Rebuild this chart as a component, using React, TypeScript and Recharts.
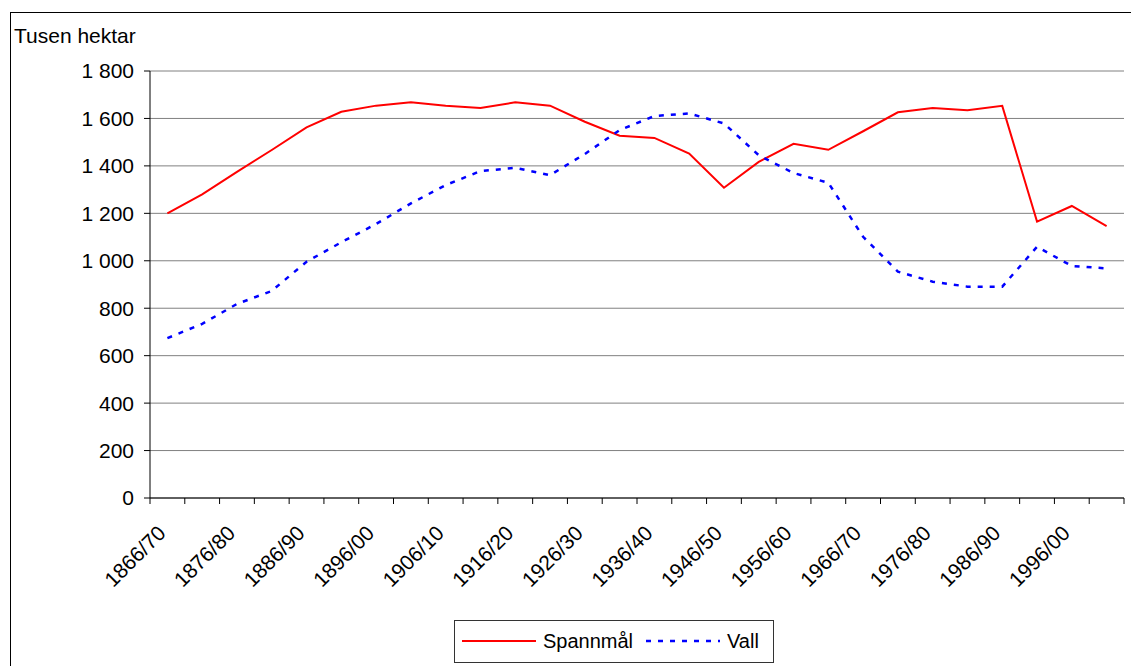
import { LineChart, Line, XAxis, YAxis, CartesianGrid, Legend } from 'recharts';

const periods = [
  '1866/70', '1871/75', '1876/80', '1881/85', '1886/90', '1891/95', '1896/00', '1901/05',
  '1906/10', '1911/15', '1916/20', '1921/25', '1926/30', '1931/35', '1936/40', '1941/45',
  '1946/50', '1951/55', '1956/60', '1961/65', '1966/70', '1971/75', '1976/80', '1981/85',
  '1986/90', '1991/95', '1996/00', '2001/05',
];

const spannmal = [
  1200, 1280, 1375, 1467, 1562, 1628, 1654, 1668, 1654, 1644, 1668, 1654, 1586, 1527,
  1518, 1452, 1308, 1417, 1493, 1468, 1546, 1626, 1644, 1635, 1653, 1165, 1231, 1146,
];

const vall = [
  674, 734, 818, 873, 996, 1078, 1155, 1242, 1319, 1378, 1392, 1361, 1450, 1551,
  1610, 1621, 1579, 1445, 1370, 1329, 1101, 954, 912, 891, 891, 1059, 978, 968,
];

const yTicks = [0, 200, 400, 600, 800, 1000, 1200, 1400, 1600, 1800];

const data = periods.map((p, i) => ({ period: p, spannmal: spannmal[i], vall: vall[i] }));

const FONT = '"Liberation Sans", Arial, Helvetica, sans-serif';

const fmtTick = (v: number) =>
  v >= 1000 ? `${Math.floor(v / 1000)} ${String(v % 1000).padStart(3, '0')}` : String(v);

function PeriodTick(props: any) {
  const { x, y, payload, index } = props;
  const off = payload?.offset ?? 17.4;
  const last = index === periods.length - 1;
  return (
    <g>
      <line x1={x - off} x2={x - off} y1={y} y2={y + 6} stroke="#000" />
      {last && <line x1={x + off} x2={x + off} y1={y} y2={y + 6} stroke="#000" />}
      {index % 2 === 0 && (
        <text
          x={x - 11}
          y={y + 26}
          dy="0.71em"
          textAnchor="end"
          fontSize={21}
          fill="#000"
          transform={`rotate(-45, ${x - 11}, ${y + 26})`}
        >
          {payload.value}
        </text>
      )}
    </g>
  );
}

function LegendBox() {
  const label = { position: 'absolute' as const, top: 9, fontSize: 20, lineHeight: '23px', color: '#000' };
  return (
    <div style={{ position: 'relative', width: 320, height: 43, border: '1px solid #333', boxSizing: 'border-box', background: '#fff' }}>
      <svg style={{ position: 'absolute', left: 7, top: 0 }} width={76} height={41}>
        <line x1={0} x2={74} y1={20} y2={20} stroke="#ff0000" strokeWidth={2} />
      </svg>
      <span style={{ ...label, left: 88 }}>Spannmål</span>
      <svg style={{ position: 'absolute', left: 191, top: 0 }} width={76} height={41}>
        <line x1={0} x2={74} y1={20} y2={20} stroke="#0000ff" strokeWidth={2.5} strokeDasharray="5 7" />
      </svg>
      <span style={{ ...label, left: 272 }}>Vall</span>
    </div>
  );
}

export default function App() {
  return (
    <div
      style={{
        position: 'absolute',
        left: 0,
        top: 0,
        width: 1131,
        height: 666,
        overflow: 'hidden',
        background: '#fff',
        fontFamily: FONT,
      }}
    >
      <div style={{ position: 'absolute', left: 10, top: 12, width: 1300, height: 900, border: '1px solid #000' }} />
      <div style={{ position: 'absolute', left: 14, top: 24, fontSize: 21, lineHeight: '24px', color: '#000' }}>
        Tusen hektar
      </div>
      <LineChart
        width={1131}
        height={666}
        data={data}
        margin={{ top: 71, right: 7, bottom: 138, left: 90 }}
        style={{ fontFamily: FONT }}
      >
        <CartesianGrid vertical={false} stroke="#808080" />
        <XAxis
          dataKey="period"
          scale="band"
          interval={0}
          height={30}
          tickSize={0}
          tickMargin={0}
          tickLine={false}
          axisLine={{ stroke: '#000' }}
          tick={<PeriodTick />}
        />
        <YAxis
          domain={[0, 1800]}
          ticks={yTicks}
          width={60}
          tickSize={6}
          tickMargin={10}
          tickFormatter={fmtTick}
          tick={{ fontSize: 21, fill: '#000' }}
          axisLine={{ stroke: '#000' }}
          tickLine={{ stroke: '#000' }}
        />
        <YAxis
          yAxisId="r"
          orientation="right"
          domain={[0, 1800]}
          width={0}
          tick={false}
          tickLine={false}
          axisLine={{ stroke: '#808080' }}
        />
        <Legend
          layout="horizontal"
          verticalAlign="middle"
          align="center"
          wrapperStyle={{ left: 454, top: 620, width: 320, height: 43 }}
          content={() => <LegendBox />}
        />
        <Line
          type="linear"
          dataKey="spannmal"
          name="Spannmål"
          stroke="#ff0000"
          strokeWidth={2}
          dot={false}
          activeDot={false}
          isAnimationActive={false}
        />
        <Line
          type="linear"
          dataKey="vall"
          name="Vall"
          stroke="#0000ff"
          strokeWidth={2.5}
          strokeDasharray="5 7"
          dot={false}
          activeDot={false}
          isAnimationActive={false}
        />
      </LineChart>
    </div>
  );
}
